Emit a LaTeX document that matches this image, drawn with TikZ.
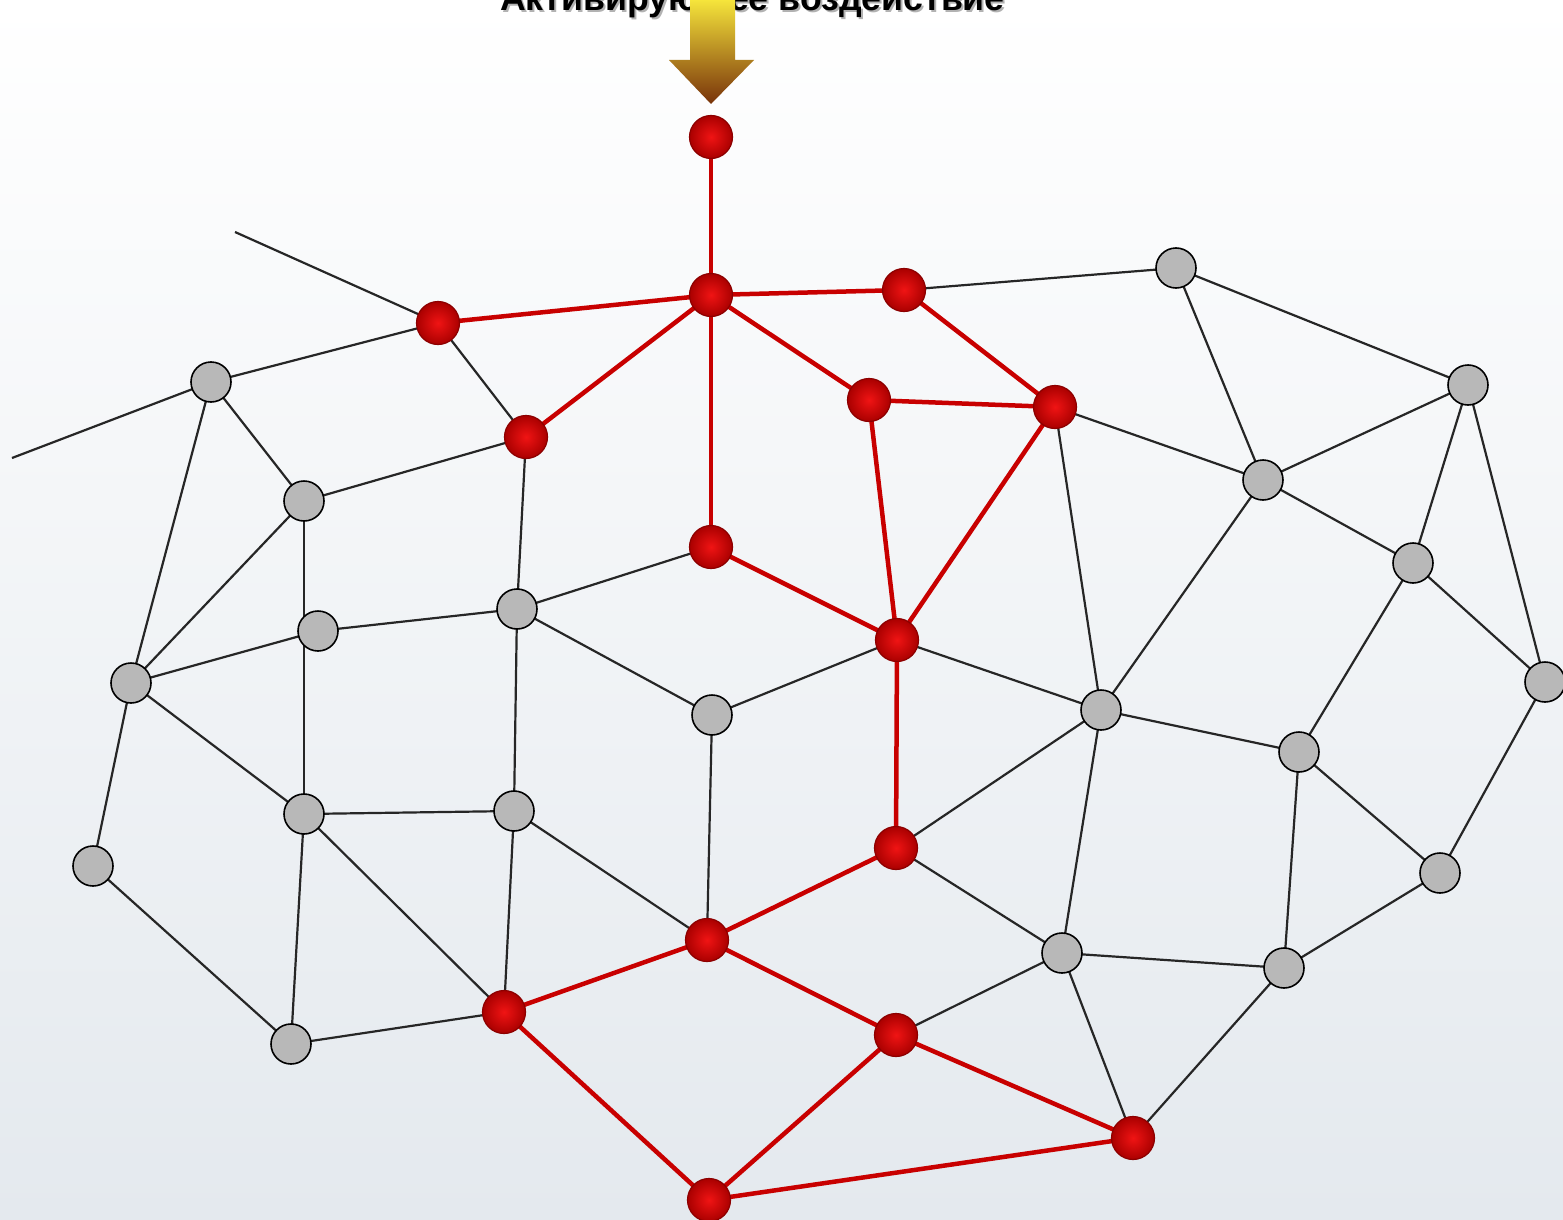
\documentclass[tikz,border=0pt]{standalone}
\usepackage{fontspec}
\setmainfont{Liberation Sans}
\usetikzlibrary{backgrounds}
\pgfdeclarelayer{bglayer}
\pgfdeclarelayer{edgelayer}
\pgfsetlayers{bglayer,edgelayer,main}
\definecolor{linered}{RGB}{200,0,0}
\definecolor{nodegray}{RGB}{184,184,184}
\definecolor{bgbottom}{RGB}{228,233,238}
\definecolor{arrowtop}{RGB}{248,232,60}
\definecolor{arrowbot}{RGB}{120,50,10}
\tikzset{
  graynode/.style={circle,minimum size=40pt,inner sep=0pt,fill=nodegray,draw=black,line width=1.6pt},
  rednode/.style={circle,minimum size=43pt,inner sep=0pt,inner color={rgb,255:red,240;green,20;blue,20},outer color={rgb,255:red,170;green,0;blue,0},draw={rgb,255:red,140;green,0;blue,0},line width=1.2pt},
  redline/.style={draw=linered,line width=4.5pt},
  blackline/.style={draw=black!85,line width=2.2pt},
  titletext/.style={anchor=base west,inner sep=0pt,font=\fontsize{35.7}{40}\selectfont\bfseries}
}
\begin{document}
\begin{tikzpicture}[x=1pt,y=-1pt]
\useasboundingbox (0,0) rectangle (1563,1220);
\clip (0,0) rectangle (1563,1220);
\begin{pgfonlayer}{bglayer}
\shade[top color=white,bottom color=bgbottom] (0,0) rectangle (1563,1220);
\end{pgfonlayer}
% title (cut at the top edge, as in the reference)
\node[titletext,text=black!30] (titleshadow) at (502,13) {Активирующее воздействие};
\node[titletext,text=black] (title) at (500,11) {Активирующее воздействие};
% arrow
\shade[top color=arrowtop,bottom color=arrowbot] (690,-2) -- (735,-2) -- (735,60) -- (754,60) -- (711,104) -- (669,60) -- (690,60) -- cycle;
% red nodes
\node[rednode] (r0) at (711,137) {};
\node[rednode] (r1) at (711,295) {};
\node[rednode] (r2) at (438,323) {};
\node[rednode] (r3) at (904,290) {};
\node[rednode] (r4) at (526,437) {};
\node[rednode] (r5) at (869,400) {};
\node[rednode] (r6) at (1055,407) {};
\node[rednode] (r7) at (711,547) {};
\node[rednode] (r8) at (897,640) {};
\node[rednode] (r9) at (896,848) {};
\node[rednode] (r10) at (707,940) {};
\node[rednode] (r11) at (504,1012) {};
\node[rednode] (r12) at (896,1035) {};
\node[rednode] (r13) at (1133,1138) {};
\node[rednode] (r14) at (709,1200) {};
% gray nodes
\node[graynode] (g1) at (1176,268) {};
\node[graynode] (g2) at (1468,385) {};
\node[graynode] (g3) at (211,382) {};
\node[graynode] (g4) at (304,501) {};
\node[graynode] (g5) at (1263,480) {};
\node[graynode] (g6) at (1413,563) {};
\node[graynode] (g7) at (517,609) {};
\node[graynode] (g8) at (318,631) {};
\node[graynode] (g9) at (131,683) {};
\node[graynode] (g10) at (1545,682) {};
\node[graynode] (g11) at (712,715) {};
\node[graynode] (g12) at (1101,710) {};
\node[graynode] (g13) at (1299,752) {};
\node[graynode] (g14) at (304,814) {};
\node[graynode] (g15) at (514,811) {};
\node[graynode] (g16) at (93,866) {};
\node[graynode] (g17) at (1440,873) {};
\node[graynode] (g18) at (1062,953) {};
\node[graynode] (g19) at (1284,968) {};
\node[graynode] (g20) at (291,1044) {};
\coordinate (f1) at (235,232);
\coordinate (f2) at (12,458);
\begin{pgfonlayer}{edgelayer}
\foreach \a/\b in {f1/r2,f2/g3,g3/r2,r2/r4,r3/g1,g1/g2,g1/g5,r6/g5,g5/g2,g2/g6,g2/g10,g5/g6,
  g3/g4,g3/g9,g4/r4,g4/g9,g4/g14,g8/g7,g8/g9,r4/g7,g7/r7,g7/g11,g7/g15,g9/g14,g9/g16,
  g14/g15,g14/g20,g14/r11,g15/r11,g15/r10,g11/r8,g11/r10,g16/g20,g20/r11,r8/g12,r6/g12,
  g5/g12,g6/g13,g6/g10,g10/g17,g13/g17,g12/g13,g12/r9,g12/g18,g13/g19,r9/g18,g18/g19,
  g17/g19,g18/r12,g18/r13,g19/r13}
  \draw[blackline] (\a.center) -- (\b.center);
\foreach \a/\b in {r0/r1,r1/r2,r1/r3,r1/r4,r1/r5,r1/r7,r3/r6,r5/r6,r5/r8,r6/r8,r7/r8,
  r8/r9,r9/r10,r10/r11,r10/r12,r11/r14,r12/r14,r12/r13,r13/r14}
  \draw[redline] (\a.center) -- (\b.center);
\end{pgfonlayer}
\end{tikzpicture}
\end{document}
